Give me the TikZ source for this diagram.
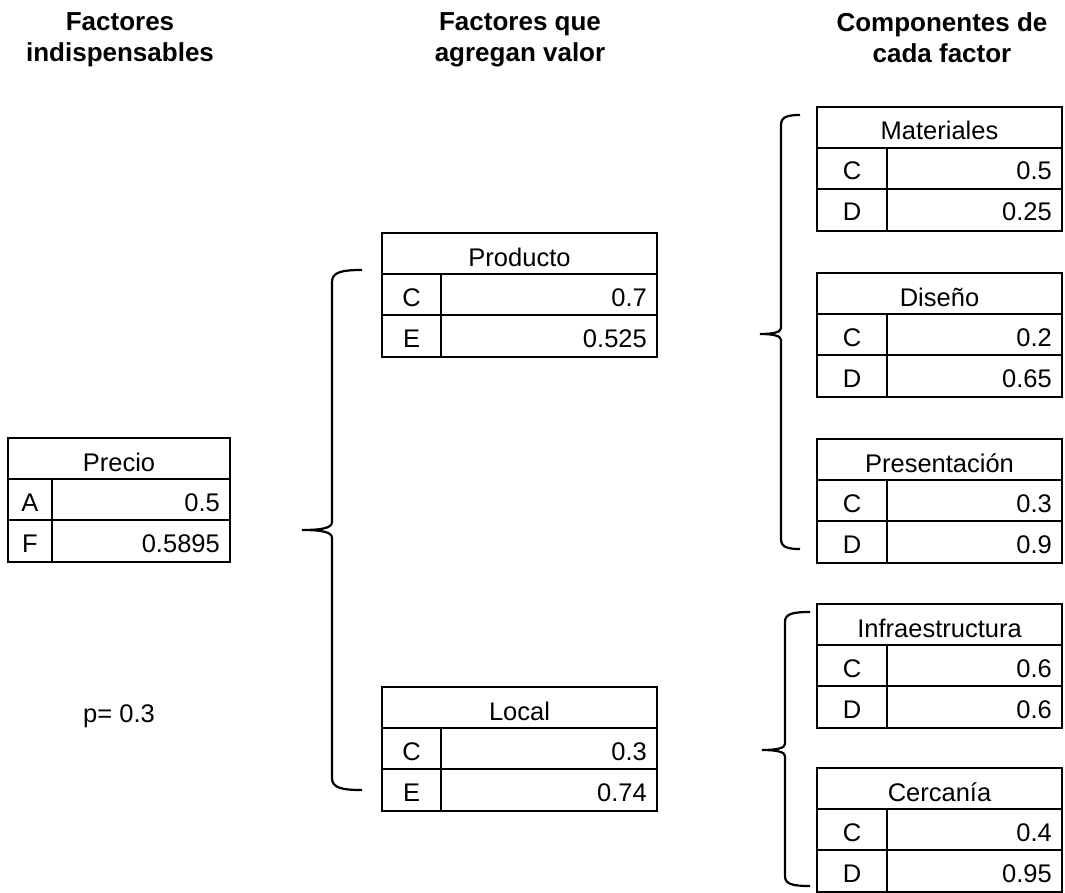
\documentclass[tikz,border=0pt]{standalone}
\usepackage{fontspec}
\setmainfont{Liberation Sans}
\newcommand\tbl[9]{\def\TbN{#1}\def\TbL{#2}\def\TbT{#3}\def\TbR{#4}\def\TbD{#5}\def\TbH{#6}\def\TbA{#7}\def\TbB{#8}\def\TbC{#9}\tblfin}
\newcommand\tblfin[1]{%
  \pgfmathsetmacro\TbW{\TbR-\TbL}%
  \node[tline, draw, anchor=north west, minimum width=\TbW pt, minimum height=124pt, inner sep=0pt, outer sep=0pt] (\TbN) at (\TbL,\TbT) {};
  \draw[tline] (\TbL,\TbT+41) -- (\TbR,\TbT+41);
  \draw[tline] (\TbL,\TbT+82) -- (\TbR,\TbT+82);
  \draw[tline] (\TbD,\TbT+41) -- (\TbD,\TbT+124);
  \node[cell] (\TbN-t) at ({(\TbL+\TbR)/2},\TbT+33) {\TbH};
  \node[cell] (\TbN-a) at ({(\TbL+\TbD)/2},\TbT+73) {\TbA};
  \node[cell, anchor=base east] (\TbN-av) at (\TbR-10,\TbT+73) {\TbB};
  \node[cell] (\TbN-b) at ({(\TbL+\TbD)/2},\TbT+114) {\TbC};
  \node[cell, anchor=base east] (\TbN-bv) at (\TbR-10,\TbT+114) {#1};
}
\begin{document}
\begin{tikzpicture}[x=1pt,y=-1pt,
  tline/.style={line width=2.2pt},
  cell/.style={inner sep=0pt, font=\fontsize{25.5}{30}\selectfont, anchor=base},
  hdr/.style={inner sep=0pt, font=\fontsize{26}{31}\selectfont\bfseries, align=center, anchor=north},
  brace/.style={line width=2.2pt}
]
\useasboundingbox (0,0) rectangle (1065,893);

% column headers
\node[hdr] (h1) at (120,12) {Factores\\indispensables};
\node[hdr] (h2) at (520,12) {Factores que\\agregan valor};
\node[hdr] (h3) at (942,12) {Componentes de\\cada factor};

% tables
\tbl{precio}{8}{438}{230}{52}{Precio}{A}{0.5}{F}{0.5895}
\tbl{producto}{382}{233}{657}{441}{Producto}{C}{0.7}{E}{0.525}
\tbl{local}{382}{687}{657}{441}{Local}{C}{0.3}{E}{0.74}
\tbl{materiales}{817}{107}{1062}{887}{Materiales}{C}{0.5}{D}{0.25}
\tbl{diseno}{817}{273}{1062}{887}{Diseño}{C}{0.2}{D}{0.65}
\tbl{present}{817}{439}{1062}{887}{Presentación}{C}{0.3}{D}{0.9}
\tbl{infra}{817}{604}{1062}{887}{Infraestructura}{C}{0.6}{D}{0.6}
\tbl{cerca}{817}{768}{1062}{887}{Cercanía}{C}{0.4}{D}{0.95}

% p value
\node[cell, anchor=base west] (pval) at (83,722) {p= 0.3};

% braces
\draw[brace] (362,270) .. controls (342,270) and (332,272) .. (332,282) -- (332,522)
  .. controls (332,528) and (322,530) .. (302,530)
  .. controls (322,530) and (332,532) .. (332,538) -- (332,778)
  .. controls (332,788) and (342,790) .. (362,790);
\draw[brace] (800,115) .. controls (787,115) and (781,117) .. (781,125) -- (781,328)
  .. controls (781,332) and (774,334) .. (760,334)
  .. controls (774,334) and (781,336) .. (781,340) -- (781,539)
  .. controls (781,547) and (787,549) .. (800,549);
\draw[brace] (810,612) .. controls (792,612) and (785,614) .. (785,622) -- (785,744)
  .. controls (785,748) and (777,750) .. (762,750)
  .. controls (777,750) and (785,752) .. (785,756) -- (785,876)
  .. controls (785,884) and (792,886) .. (810,886);
\end{tikzpicture}
\end{document}
